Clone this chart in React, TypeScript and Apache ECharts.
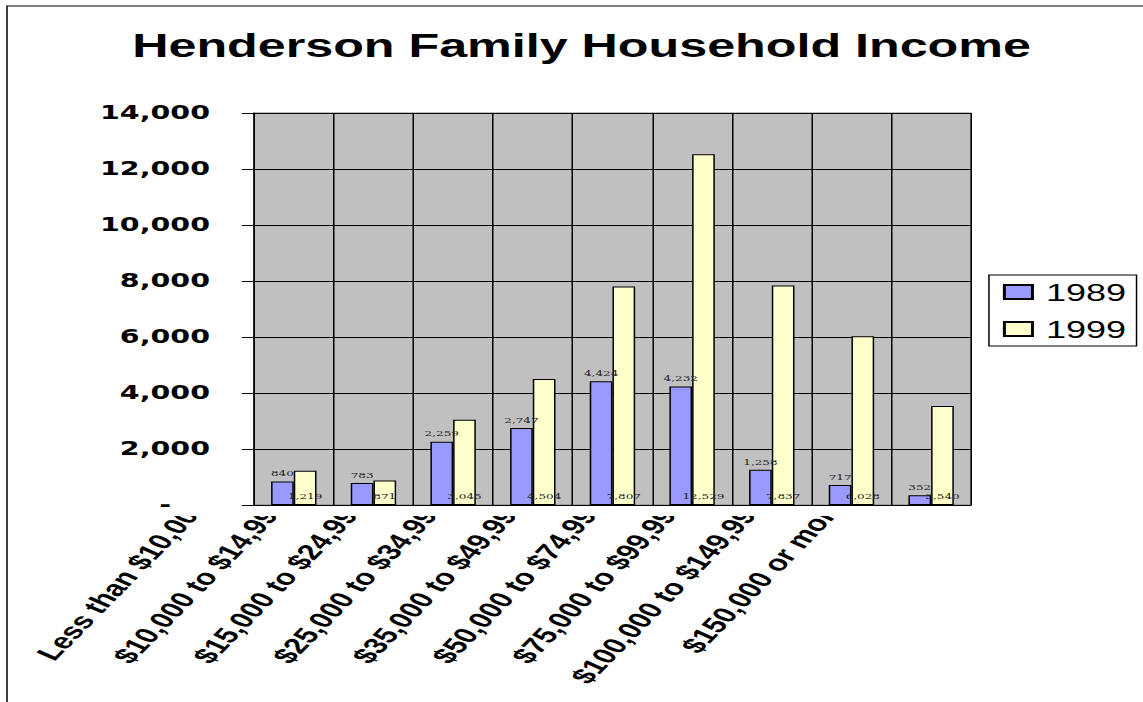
import React, { useEffect, useRef } from "react";
import * as echarts from "echarts";

// Income brackets and household counts for the two census years
const categories = [
  "Less than $10,000",
  "$10,000 to $14,999",
  "$15,000 to $24,999",
  "$25,000 to $34,999",
  "$35,000 to $49,999",
  "$50,000 to $74,999",
  "$75,000 to $99,999",
  "$100,000 to $149,999",
  "$150,000 or more",
];
const income1989 = [840, 783, 2259, 2747, 4424, 4232, 1258, 717, 352];
const income1999 = [1219, 871, 3045, 4504, 7807, 12529, 7837, 6028, 3540];
const seriesNames = ["1989", "1999"];
const yMin = 0;
const yMax = 14000;
const yStep = 2000;

// The chart is laid out at 2/3 width and stretched horizontally by CSS,
// giving the wide, squat lettering of the original spreadsheet export.
const STRETCH = 1.5;
const BASE_W = 762;
const BASE_H = 702;

const fmt = (v: number) => v.toLocaleString("en-US");

export default function App() {
  const ref = useRef<HTMLDivElement>(null);

  useEffect(() => {
    if (!ref.current) return;
    const chart = echarts.init(ref.current, undefined, { renderer: "svg" });

    const plot = { left: 169.3, top: 113, width: 478, height: 392 };

    chart.setOption({
      animation: false,
      title: {
        text: "Henderson Family Household Income",
        left: 382.7,
        top: 23.5,
        textAlign: "center",
        textStyle: {
          fontFamily: "Liberation Sans",
          fontWeight: "bold",
          fontSize: 33.5,
          color: "#000",
        },
      },
      legend: {
        data: seriesNames,
        orient: "vertical",
        left: 659.3,
        top: 275,
        padding: [5, 7, 5, 9.3],
        itemWidth: 18.7,
        itemHeight: 14,
        itemGap: 13,
        icon: "rect",
        borderColor: "#000",
        borderWidth: 1,
        backgroundColor: "#fff",
        textStyle: {
          fontFamily: "Liberation Sans",
          fontSize: 24,
          color: "#000",
          padding: [0, 0, 0, 4],
        },
      },
      grid: [
        {
          ...plot,
          show: true,
          backgroundColor: "#C0C0C0",
          borderColor: "#808080",
          borderWidth: 1,
          z: 2,
        },
        // label-only grid, offset left so the slanted bracket names sit under the ticks
        { ...plot, left: plot.left - 62, show: false },
      ],
      xAxis: [
        {
          type: "category",
          gridIndex: 0,
          data: categories,
          z: 3,
          axisLine: { lineStyle: { color: "#000", width: 1 } },
          axisTick: { interval: 0, length: 7, lineStyle: { color: "#000" } },
          axisLabel: { show: false, interval: 0 },
          splitLine: {
            show: true,
            interval: 0,
            lineStyle: { color: "#000", width: 1 },
          },
        },
        {
          type: "category",
          gridIndex: 1,
          data: categories,
          z: 0,
          axisLine: { show: false },
          axisTick: { show: false },
          splitLine: { show: false },
          axisLabel: {
            interval: 0,
            rotate: 56.5,
            margin: -4,
            fontFamily: "Liberation Sans",
            fontWeight: "bold",
            fontSize: 22,
            color: "#000",
          },
        },
      ],
      yAxis: [
        {
          type: "value",
          gridIndex: 0,
          min: yMin,
          max: yMax,
          interval: yStep,
          z: 3,
          axisLine: { show: true, lineStyle: { color: "#000" } },
          axisTick: { show: true, length: 8, lineStyle: { color: "#000" } },
          splitLine: { show: true, lineStyle: { color: "#000", width: 1 } },
          axisLabel: {
            margin: 29.3,
            fontFamily: "DejaVu Sans",
            fontWeight: "bold",
            fontSize: 19,
            color: "#000",
            formatter: (v: number) => (v === 0 ? "{z|-}" : fmt(v)),
            rich: {
              z: {
                fontFamily: "DejaVu Sans",
                fontWeight: "bold",
                fontSize: 19,
                color: "#000",
                padding: [0, 26, 0, 0],
              },
            },
          },
        },
        { type: "value", gridIndex: 1, show: false, min: yMin, max: yMax },
      ],
      graphic: [
        {
          type: "rect",
          z: 1,
          silent: true,
          shape: { x: 4.67, y: 6, width: 3000, height: 3000 },
          style: { fill: "none", stroke: "#000", lineWidth: 1 },
        },
        {
          type: "rect",
          z: 1,
          silent: true,
          shape: { x: 106.7, y: 498, width: 560, height: 18 },
          style: { fill: "#fff" },
        },
      ],
      series: [
        {
          name: seriesNames[0],
          type: "bar",
          xAxisIndex: 0,
          yAxisIndex: 0,
          data: income1989,
          barGap: "0%",
          barCategoryGap: "43%",
          z: 5,
          itemStyle: { color: "#9999FF", borderColor: "#000", borderWidth: 1 },
          label: {
            show: true,
            position: "top",
            distance: 4,
            fontFamily: "DejaVu Serif",
            fontSize: 8,
            color: "#222",
            formatter: (p: any) => fmt(p.value),
          },
        },
        {
          name: seriesNames[1],
          type: "bar",
          xAxisIndex: 0,
          yAxisIndex: 0,
          data: income1999,
          barGap: "0%",
          barCategoryGap: "43%",
          z: 5,
          itemStyle: { color: "#FFFFCC", borderColor: "#000", borderWidth: 1 },
          label: {
            show: true,
            position: "insideBottom",
            distance: 5,
            fontFamily: "DejaVu Serif",
            fontSize: 8,
            color: "#222",
            formatter: (p: any) => fmt(p.value),
          },
        },
      ],
    });

    return () => chart.dispose();
  }, []);

  return (
    <div
      ref={ref}
      style={{
        position: "absolute",
        left: 0,
        top: 0,
        width: BASE_W,
        height: BASE_H,
        transform: `scaleX(${STRETCH})`,
        transformOrigin: "0 0",
        background: "#fff",
      }}
    />
  );
}
